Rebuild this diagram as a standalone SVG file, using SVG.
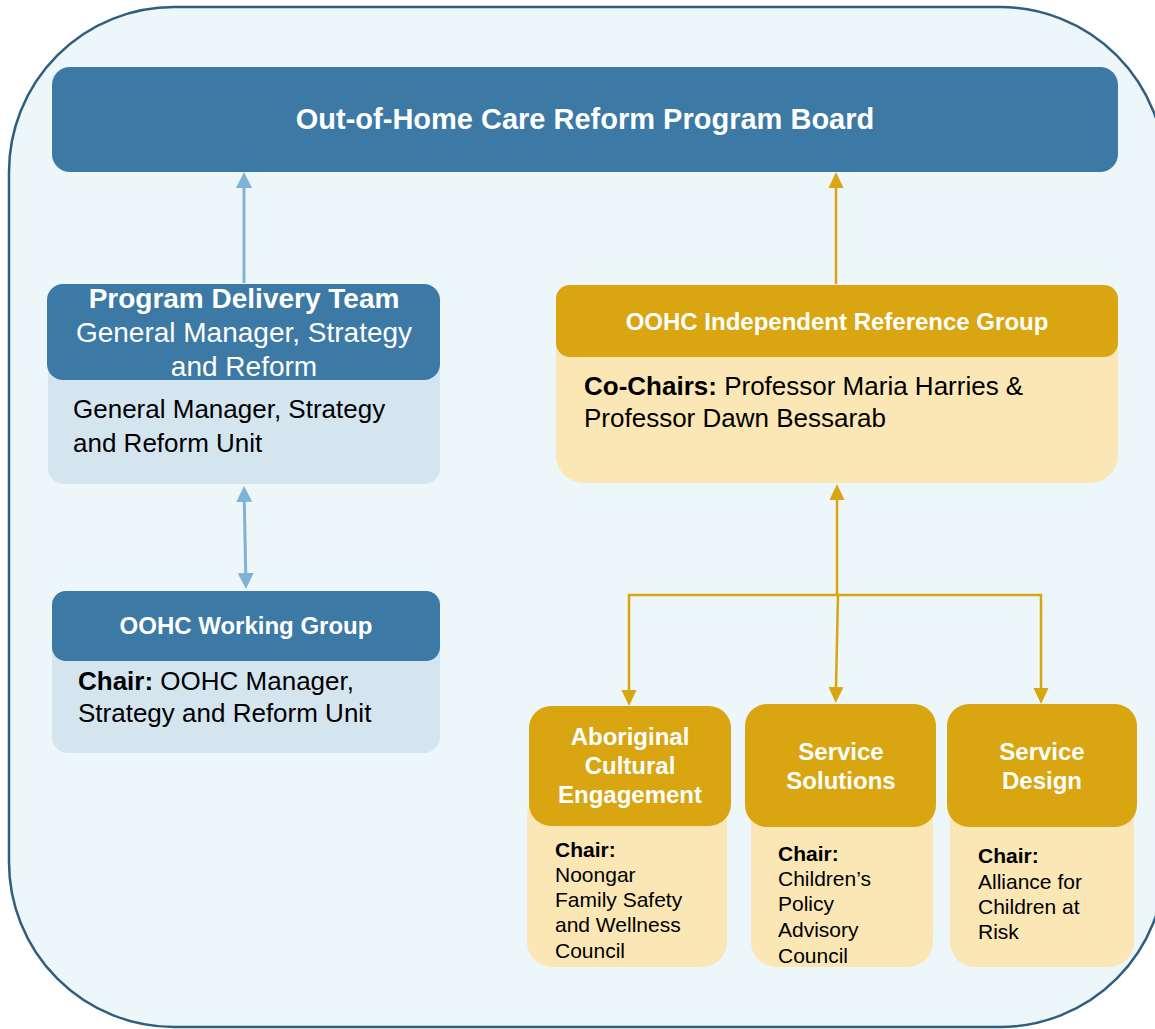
<svg xmlns="http://www.w3.org/2000/svg" width="1155" height="1029" viewBox="0 0 1155 1029">
<style>
text{font-family:"Liberation Sans",Arial,sans-serif}
.w{fill:#ffffff}
.k{fill:#000000}
.b{font-weight:bold}
.hb{fill:#3C79A4}
.lb{fill:#D5E5F0}
.hg{fill:#D9A511}
.lg{fill:#FAE7B5}
.cb{stroke:#7FB3D5;stroke-width:3;fill:none}
.cg{stroke:#D9A511;stroke-width:2.5;fill:none}
</style>
<defs>
<marker id="ab" markerUnits="userSpaceOnUse" markerWidth="16" markerHeight="16" refX="0" refY="8" orient="auto-start-reverse" viewBox="0 0 16 16"><path d="M0,0 L16,8 L0,16 z" fill="#7FB3D5"/></marker>
<marker id="ag" markerUnits="userSpaceOnUse" markerWidth="16" markerHeight="16" refX="0" refY="8" orient="auto-start-reverse" viewBox="0 0 16 16"><path d="M0,0.5 L16,8 L0,15.5 z" fill="#D9A511"/></marker>
</defs>
<rect x="9" y="7" width="1156" height="1020" rx="165" ry="165" fill="#EDF6F8" stroke="#2E5E80" stroke-width="2.5"/>

<g id="connectors">
<line class="cb" x1="244" y1="283" x2="244" y2="188" marker-end="url(#ab)"/>
<line class="cb" x1="244.3" y1="502" x2="245.7" y2="573" marker-start="url(#ab)" marker-end="url(#ab)"/>
<line class="cg" x1="836" y1="284" x2="836" y2="188" marker-end="url(#ag)"/>
<line class="cg" x1="837" y1="595" x2="837" y2="500" marker-end="url(#ag)"/>
<path class="cg" d="M838,595 H629 V690" marker-end="url(#ag)"/>
<path class="cg" d="M838,595 H1041 V688" marker-end="url(#ag)"/>
<line class="cg" x1="838" y1="595" x2="836" y2="687" marker-end="url(#ag)"/>
</g>

<g id="board">
<rect class="hb" x="52" y="67" width="1066" height="105" rx="18"/>
<text class="w b" x="585" y="129" font-size="29" text-anchor="middle">Out-of-Home Care Reform Program Board</text>
</g>

<g id="program-delivery-team">
<rect class="lb" x="48" y="350" width="392" height="134" rx="16"/>
<rect class="hb" x="47" y="284" width="393" height="96" rx="16"/>
<text class="w b" x="244" y="308" font-size="28" text-anchor="middle">Program Delivery Team</text>
<text class="w" x="244" y="342" font-size="28" text-anchor="middle">General Manager, Strategy</text>
<text class="w" x="244" y="376" font-size="28" text-anchor="middle">and Reform</text>
<text class="k" x="73" y="418" font-size="26">General Manager, Strategy</text>
<text class="k" x="73" y="452" font-size="26">and Reform Unit</text>
</g>

<g id="oohc-working-group">
<rect class="lb" x="52" y="630" width="388" height="123" rx="16"/>
<rect class="hb" x="52" y="591" width="388" height="70" rx="14"/>
<text class="w b" x="246" y="634" font-size="24" text-anchor="middle">OOHC Working Group</text>
<text class="k" x="78" y="690" font-size="26"><tspan class="b">Chair:</tspan> OOHC Manager,</text>
<text class="k" x="78" y="722" font-size="26">Strategy and Reform Unit</text>
</g>

<g id="independent-reference-group">
<rect class="lg" x="556" y="320" width="562" height="163" rx="28"/>
<rect class="hg" x="556" y="285" width="562" height="72" rx="14"/>
<text class="w b" x="837" y="330" font-size="24" text-anchor="middle">OOHC Independent Reference Group</text>
<text class="k" x="584" y="395" font-size="26"><tspan class="b">Co-Chairs:</tspan> Professor Maria Harries &amp;</text>
<text class="k" x="584" y="427" font-size="26">Professor Dawn Bessarab</text>
</g>

<g id="aboriginal-cultural-engagement">
<rect class="lg" x="527" y="790" width="200" height="177" rx="25"/>
<rect class="hg" x="529" y="706" width="202" height="120" rx="22"/>
<text class="w b" x="630" y="745" font-size="24" text-anchor="middle">Aboriginal</text>
<text class="w b" x="630" y="774" font-size="24" text-anchor="middle">Cultural</text>
<text class="w b" x="630" y="803" font-size="24" text-anchor="middle">Engagement</text>
<text class="k b" x="555" y="857" font-size="21">Chair:</text>
<text class="k" x="555" y="882" font-size="21">Noongar</text>
<text class="k" x="555" y="907" font-size="21">Family Safety</text>
<text class="k" x="555" y="932" font-size="21">and Wellness</text>
<text class="k" x="555" y="958" font-size="21">Council</text>
</g>

<g id="service-solutions">
<rect class="lg" x="751" y="790" width="182" height="177" rx="25"/>
<rect class="hg" x="745" y="704" width="191" height="123" rx="22"/>
<text class="w b" x="841" y="760" font-size="24" text-anchor="middle">Service</text>
<text class="w b" x="841" y="789" font-size="24" text-anchor="middle">Solutions</text>
<text class="k b" x="778" y="861" font-size="21">Chair:</text>
<text class="k" x="778" y="886" font-size="21">Children’s</text>
<text class="k" x="778" y="911" font-size="21">Policy</text>
<text class="k" x="778" y="937" font-size="21">Advisory</text>
<text class="k" x="778" y="963" font-size="21">Council</text>
</g>

<g id="service-design">
<rect class="lg" x="950" y="790" width="184" height="177" rx="25"/>
<rect class="hg" x="947" y="704" width="190" height="123" rx="22"/>
<text class="w b" x="1042" y="760" font-size="24" text-anchor="middle">Service</text>
<text class="w b" x="1042" y="789" font-size="24" text-anchor="middle">Design</text>
<text class="k b" x="978" y="863" font-size="21">Chair:</text>
<text class="k" x="978" y="889" font-size="21">Alliance for</text>
<text class="k" x="978" y="914" font-size="21">Children at</text>
<text class="k" x="978" y="939" font-size="21">Risk</text>
</g>
</svg>
